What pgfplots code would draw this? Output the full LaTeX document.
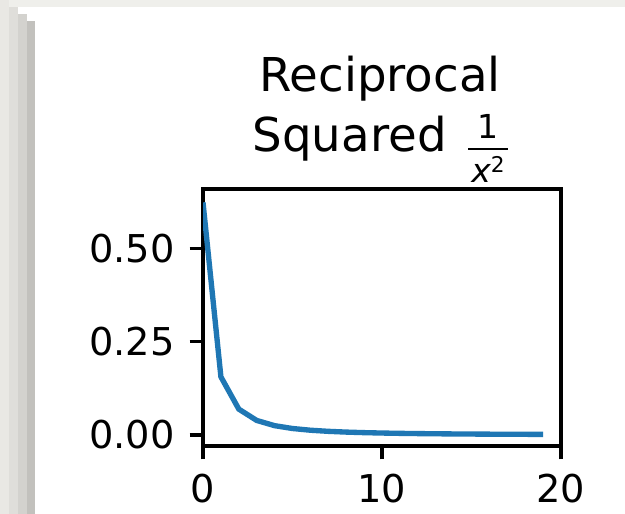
\documentclass[border=0pt]{standalone}
\usepackage{fontspec}
\setmainfont{DejaVu Sans}
\usepackage{pgfplots}
\pgfplotsset{compat=1.18}
\definecolor{mplblue}{HTML}{1F77B4}
\definecolor{frameA}{HTML}{EFEFEB}
\definecolor{frameB}{HTML}{E9E8E4}
\definecolor{frameC}{HTML}{DFDEDA}
\definecolor{frameD}{HTML}{D3D2CE}
\definecolor{frameE}{HTML}{C2C1BD}
\begin{document}
\begin{tikzpicture}
% screenshot frame (1px = 0.3pt)
\path[use as bounding box] (0,0) rectangle (187.5pt,154.2pt);
\fill[white] (0,0) rectangle (187.5pt,154.2pt);
\fill[frameA] (0,152.1pt) rectangle (187.5pt,154.2pt);
\fill[frameB] (0,0) rectangle (2.7pt,154.2pt);
\fill[frameC] (2.7pt,0) rectangle (5.4pt,152.1pt);
\fill[frameD] (5.4pt,0) rectangle (8.1pt,150pt);
\fill[frameE] (8.1pt,0) rectangle (10.5pt,148pt);

\begin{axis}[
  scale only axis,
  width=107.4pt, height=77.1pt,
  at={(60.9pt,20.4pt)}, anchor=south west,
  xmin=0, xmax=20,
  ymin=-0.0296, ymax=0.661,
  xtick={0,10,20},
  ytick={0,0.25,0.5},
  axis line style={line width=0.92pt},
  tick style={line width=0.92pt, black},
  tick align=outside,
  major tick length=4pt,
  xtick pos=bottom, ytick pos=left,
  /pgf/number format/assume math mode=true,
  ticklabel style={font=\fontsize{11.5}{13}\selectfont},
  xticklabel style={yshift=-1pt},
  yticklabel style={xshift=-1pt, /pgf/number format/.cd, fixed, fixed zerofill, precision=2},
]
\addplot[mplblue, line width=1.6pt, mark=none] coordinates {
  (0,0.625) (1,0.15625) (2,0.069444) (3,0.039063) (4,0.025)
  (5,0.017361) (6,0.012755) (7,0.009766) (8,0.007716) (9,0.00625)
  (10,0.005165) (11,0.004340) (12,0.003698) (13,0.003189) (14,0.002778)
  (15,0.002441) (16,0.002163) (17,0.001929) (18,0.001731) (19,0.0015625)
};
\end{axis}

% title: "Reciprocal" / "Squared 1/x^2"
\node[anchor=base, inner sep=0pt, font=\fontsize{14}{16}\selectfont] at (114pt,126.6pt) {Reciprocal};
\node[anchor=base west, inner sep=0pt, font=\fontsize{14}{16}\selectfont] at (75.6pt,108.6pt) {Squared};
\node[anchor=base, inner sep=0pt, font=\fontsize{9.9}{11}\selectfont] at (146.4pt,112.5pt) {1};
\draw[line width=0.6pt] (140.4pt,109.5pt) -- (152.4pt,109.5pt);
\node[anchor=base, inner sep=0pt, font=\fontsize{9.9}{11}\selectfont] at (146.4pt,99.3pt) {\itshape x\raisebox{3pt}{\fontsize{6.5}{7}\selectfont\upshape 2}};
\end{tikzpicture}
\end{document}
